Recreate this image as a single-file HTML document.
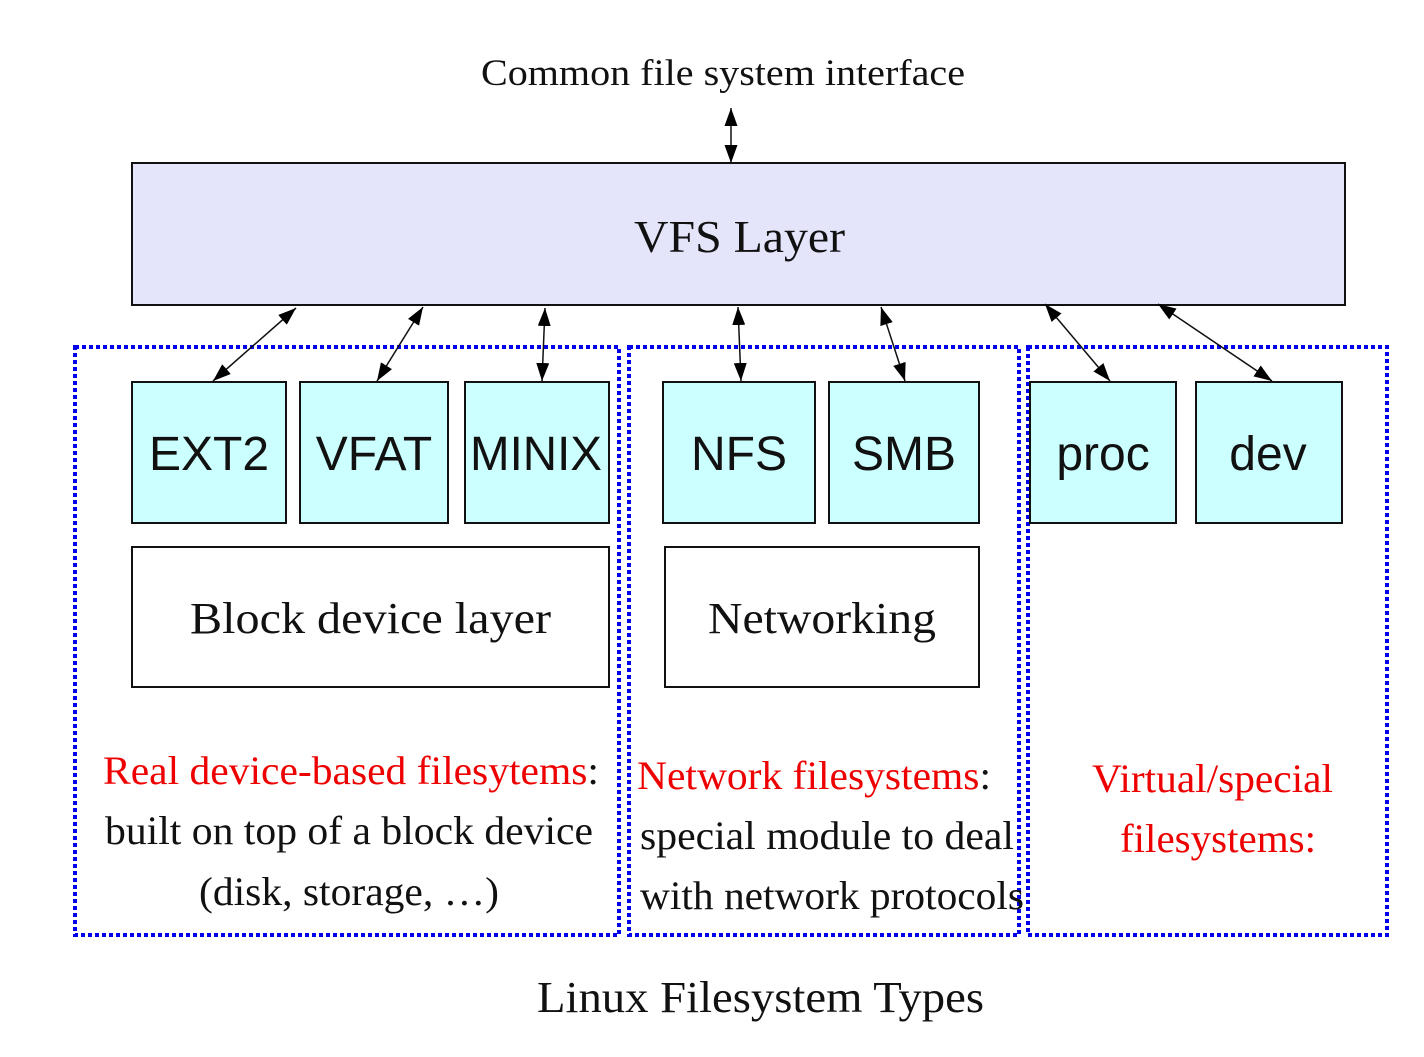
<!DOCTYPE html>
<html><head><meta charset="utf-8"><style>html,body{margin:0;padding:0;background:#fff}</style></head>
<body>
<svg width="1424" height="1052" viewBox="0 0 1424 1052" xmlns="http://www.w3.org/2000/svg">
<defs>
<marker id="b" viewBox="0 0 18 13" refX="18" refY="6.5" markerWidth="18" markerHeight="13" markerUnits="userSpaceOnUse" orient="auto-start-reverse"><path d="M0,0 L18,6.5 L0,13 z" fill="#000"/></marker>
</defs>
<g font-family="Liberation Serif, serif" fill="#111">
<text x="481" y="85" font-size="37" textLength="484" lengthAdjust="spacingAndGlyphs">Common file system interface</text>
</g>
<rect x="132" y="163" width="1213" height="142" fill="#e4e4fb" stroke="#111" stroke-width="2"/>
<text x="634" y="252" font-family="Liberation Serif, serif" font-size="46" textLength="211" lengthAdjust="spacingAndGlyphs" fill="#111">VFS Layer</text>
<g fill="none" stroke="#0000ee" stroke-width="4" stroke-dasharray="4,3">
<rect x="75" y="347" width="544" height="588"/>
<rect x="629" y="347" width="390" height="588"/>
<rect x="1028" y="347" width="359" height="588"/>
</g>
<g fill="#ccffff" stroke="#111" stroke-width="2">
<rect x="132" y="382" width="154" height="141"/>
<rect x="300" y="382" width="148" height="141"/>
<rect x="465" y="382" width="144" height="141"/>
<rect x="663" y="382" width="152" height="141"/>
<rect x="829" y="382" width="150" height="141"/>
<rect x="1030" y="382" width="146" height="141"/>
<rect x="1196" y="382" width="146" height="141"/>
</g>
<g font-family="Liberation Sans, sans-serif" font-size="48" fill="#111" text-anchor="middle">
<text x="209" y="470">EXT2</text>
<text x="374" y="470">VFAT</text>
<text x="536" y="470" textLength="132" lengthAdjust="spacingAndGlyphs">MINIX</text>
<text x="739" y="470">NFS</text>
<text x="904" y="470">SMB</text>
<text x="1103" y="470">proc</text>
<text x="1268" y="470">dev</text>
</g>
<g fill="#fff" stroke="#111" stroke-width="2">
<rect x="132" y="547" width="477" height="140"/>
<rect x="665" y="547" width="314" height="140"/>
</g>
<g font-family="Liberation Serif, serif" font-size="44" fill="#111">
<text x="190" y="633" textLength="361" lengthAdjust="spacingAndGlyphs">Block device layer</text>
<text x="708" y="633" textLength="228" lengthAdjust="spacingAndGlyphs">Networking</text>
</g>
<g stroke="#111" stroke-width="1.5" marker-start="url(#b)" marker-end="url(#b)">
<line x1="731" y1="108" x2="731" y2="163"/>
<line x1="296" y1="308" x2="213" y2="381"/>
<line x1="423" y1="307" x2="377" y2="381"/>
<line x1="545" y1="308" x2="542" y2="381"/>
<line x1="738" y1="307" x2="741" y2="381"/>
<line x1="881" y1="307" x2="905" y2="381"/>
<line x1="1045" y1="304" x2="1110" y2="381"/>
<line x1="1158" y1="304" x2="1272" y2="381"/>
</g>
<g font-family="Liberation Serif, serif" font-size="40">
<text x="103" y="784" fill="#ee0000" textLength="496" lengthAdjust="spacingAndGlyphs">Real device-based filesytems<tspan fill="#111">:</tspan></text>
<text x="105" y="844" fill="#111" textLength="488" lengthAdjust="spacingAndGlyphs">built on top of a block device</text>
<text x="199" y="905" fill="#111" textLength="300" lengthAdjust="spacingAndGlyphs">(disk, storage, …)</text>
<text x="637" y="789" fill="#ee0000" textLength="354" lengthAdjust="spacingAndGlyphs">Network filesystems<tspan fill="#111">:</tspan></text>
<text x="640" y="849" fill="#111" textLength="374" lengthAdjust="spacingAndGlyphs">special module to deal</text>
<text x="640" y="909" fill="#111" textLength="384" lengthAdjust="spacingAndGlyphs">with network protocols</text>
<text x="1092" y="792" fill="#ee0000" textLength="241" lengthAdjust="spacingAndGlyphs">Virtual/special</text>
<text x="1120" y="852" fill="#ee0000" textLength="196" lengthAdjust="spacingAndGlyphs">filesystems:</text>
<text x="537" y="1012" fill="#111" font-size="44" textLength="447" lengthAdjust="spacingAndGlyphs">Linux Filesystem Types</text>
</g>
</svg>
</body></html>
